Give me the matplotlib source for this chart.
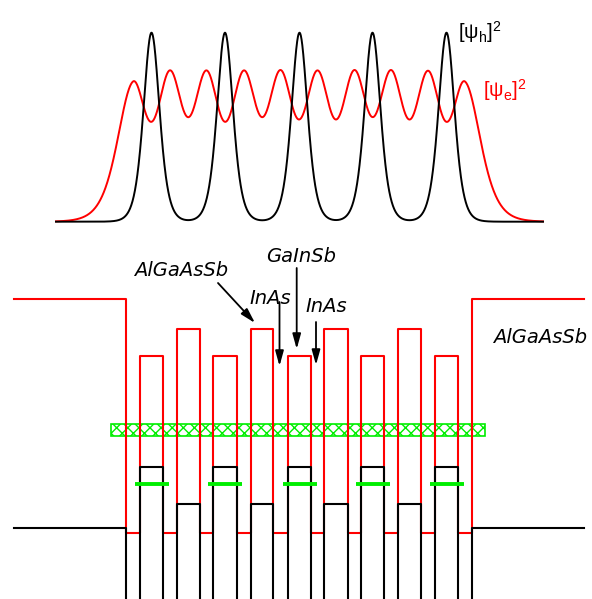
import numpy as np
import matplotlib
matplotlib.use('Agg')
import matplotlib.pyplot as plt
from matplotlib.patches import Rectangle

# layer boundaries along the growth axis (schematic units)
bounds = [126, 140, 163, 177, 200, 213, 237, 251, 273, 288,
          311, 324, 348, 361, 384, 398, 421, 435, 458, 472]
layers = ['InAs', 'GaInSb', 'InAs', 'AlGaAsSb',
          'InAs', 'GaInSb', 'InAs', 'AlGaAsSb',
          'InAs', 'GaInSb', 'InAs', 'AlGaAsSb',
          'InAs', 'GaInSb', 'InAs', 'AlGaAsSb',
          'InAs', 'GaInSb', 'InAs']
x_start, x_end = 14, 584

# band edges (schematic energy units)
ec = {'InAs': 66, 'GaInSb': 243, 'AlGaAsSb': 270}
ev = {'InAs': -40, 'GaInSb': 132, 'AlGaAsSb': 95}
ec_clad, ev_clad = 300, 71

# electron miniband and hole levels
e_band = (163, 175)
e_band_x = (111, 485)
hh_level = 115
hh_halfwidth = 17

# squared wavefunctions: baseline, peak heights
psi_base = 377.3
psi_x = (56, 543)
h_peak = 189.0
e_peak = 151.7
e_outer_ratio = 0.97


def band_path(edges, clad):
    xs = [x_start, bounds[0]]
    ys = [clad, clad]
    for i, name in enumerate(layers):
        xs += [bounds[i], bounds[i + 1]]
        ys += [edges[name], edges[name]]
    xs += [bounds[-1], x_end]
    ys += [clad, clad]
    return xs, ys


def sech2(u):
    return 1.0 / np.cosh(u) ** 2


centers = [(bounds[i] + bounds[i + 1]) / 2 for i in range(len(layers))]
well_c = [c for c, n in zip(centers, layers) if n == 'InAs']
hole_c = [c for c, n in zip(centers, layers) if n == 'GaInSb']

x = np.linspace(psi_x[0], psi_x[1], 2000)

# holes: one narrow peak per GaInSb layer
psi_h = np.zeros_like(x)
for c in hole_c:
    psi_h += sech2((x - c) / 10.7)
psi_h *= h_peak / psi_h.max()

# electrons: spread over all InAs wells, wider tails into the cladding
psi_e = np.zeros_like(x)
for i, c in enumerate(well_c):
    amp = e_outer_ratio if i in (0, len(well_c) - 1) else 1.0
    w = np.full_like(x, 17.0)
    if i == 0:
        w[x < c] = 21.0
    if i == len(well_c) - 1:
        w[x > c] = 21.0
    psi_e += amp * sech2((x - c) / w)
psi_e *= e_peak / psi_e.max()

plt.rcParams['mathtext.fontset'] = 'custom'
plt.rcParams['mathtext.rm'] = 'Liberation Sans'
plt.rcParams['mathtext.it'] = 'Liberation Sans'
plt.rcParams['mathtext.default'] = 'regular'
plt.rcParams['hatch.linewidth'] = 1.0

fig = plt.figure(figsize=(5.92, 5.99), dpi=100)
ax = fig.add_axes([0, 0, 1, 1])
ax.set_xlim(0, 592)
ax.set_ylim(0, 599)
ax.axis('off')

green = '#00ee00'

# wavefunctions
ax.plot(x, psi_base + psi_e, color='red', lw=1.4, zorder=3)
ax.plot(x, psi_base + psi_h, color='black', lw=1.4, zorder=4)
ax.text(458, 560, r'$[\psi_h]^2$', fontsize=14.5, color='black',
        family='Liberation Sans', ha='left', va='baseline')
ax.text(483, 502, r'$[\psi_e]^2$', fontsize=14.5, color='red',
        family='Liberation Sans', ha='left', va='baseline')

# band diagram
xs, ys = band_path(ec, ec_clad)
ax.plot(xs, ys, color='red', lw=1.5, zorder=3)
xs, ys = band_path(ev, ev_clad)
ax.plot(xs, ys, color='black', lw=1.5, zorder=4)

ax.add_patch(Rectangle((e_band_x[0], e_band[0]), e_band_x[1] - e_band_x[0],
                       e_band[1] - e_band[0], facecolor='white',
                       edgecolor=green, hatch='xxx', lw=1.2, zorder=2))
for c in hole_c:
    ax.plot([c - hh_halfwidth, c + hh_halfwidth], [hh_level, hh_level],
            color=green, lw=2.8, solid_capstyle='butt', zorder=5)

# labels and arrows
lab = dict(fontsize=14, style='oblique', family='DejaVu Sans', color='black')
ax.text(181, 323, 'AlGaAsSb', ha='center', va='baseline', **lab)
ax.text(301, 337, 'GaInSb', ha='center', va='baseline', **lab)
ax.text(270, 295, 'InAs', ha='center', va='baseline', **lab)
ax.text(326, 287, 'InAs', ha='center', va='baseline', **lab)
ax.text(540, 256, 'AlGaAsSb', ha='center', va='baseline', **lab)

arrow = dict(arrowstyle='-|>,head_length=0.9,head_width=0.25', color='black',
             lw=1.3, mutation_scale=10, shrinkA=0, shrinkB=0)
ax.annotate('', xy=(255, 276), xytext=(218, 316), arrowprops=arrow)
ax.annotate('', xy=(279.5, 233), xytext=(279.5, 297), arrowprops=arrow)
ax.annotate('', xy=(296.7, 250), xytext=(296.7, 331), arrowprops=arrow)
ax.annotate('', xy=(316, 234), xytext=(316, 277), arrowprops=arrow)

fig.savefig('out.png', dpi=100)
